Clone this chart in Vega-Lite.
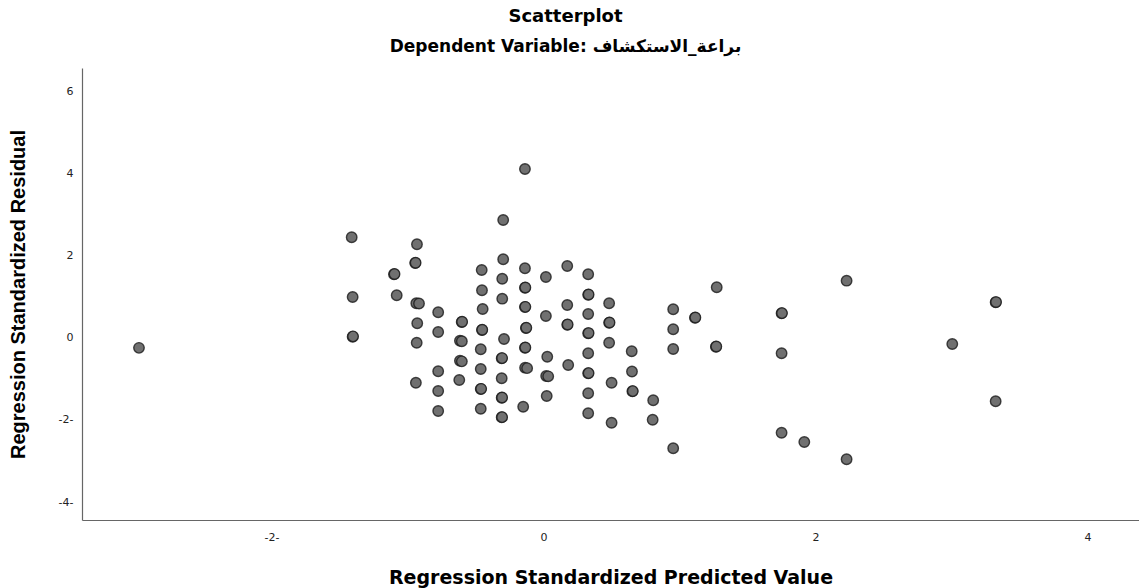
{
  "$schema": "https://vega.github.io/schema/vega-lite/v6.json",
  "autosize": "none",
  "width": 1057,
  "height": 452,
  "padding": {"left": 82, "top": 68, "right": 0, "bottom": 68},
  "background": "white",
  "config": {
    "font": "Liberation Sans",
    "view": {"stroke": null}
  },
  "title": {
    "text": "Scatterplot",
    "subtitle": "Dependent Variable: براعة_الاستكشاف",
    "anchor": "middle",
    "frame": "group",
    "dx": -45,
    "font": "DejaVu Sans",
    "fontSize": 18,
    "fontWeight": "bold",
    "color": "#000000",
    "subtitleFont": "DejaVu Sans",
    "subtitleFontSize": 17,
    "subtitleFontWeight": "bold",
    "subtitleColor": "#000000",
    "subtitlePadding": 13,
    "offset": 13
  },
  "data": {
    "values": [
      {"pred": -2.974, "resid": -0.24},
      {"pred": -1.410, "resid": 2.456},
      {"pred": -1.403, "resid": 1.000},
      {"pred": -1.403, "resid": 0.032},
      {"pred": -1.400, "resid": 0.040},
      {"pred": -1.099, "resid": 1.554},
      {"pred": -1.095, "resid": 1.560},
      {"pred": -1.079, "resid": 1.041},
      {"pred": -0.930, "resid": 2.285},
      {"pred": -0.943, "resid": 1.829},
      {"pred": -0.940, "resid": 1.835},
      {"pred": -0.935, "resid": 0.846},
      {"pred": -0.915, "resid": 0.840},
      {"pred": -0.928, "resid": 0.359},
      {"pred": -0.932, "resid": -0.115},
      {"pred": -0.938, "resid": -1.090},
      {"pred": -0.774, "resid": 0.627},
      {"pred": -0.774, "resid": 0.146},
      {"pred": -0.774, "resid": -0.812},
      {"pred": -0.774, "resid": -1.293},
      {"pred": -0.774, "resid": -1.780},
      {"pred": -0.601, "resid": 0.390},
      {"pred": -0.598, "resid": 0.395},
      {"pred": -0.614, "resid": -0.066},
      {"pred": -0.600, "resid": -0.080},
      {"pred": -0.614, "resid": -0.554},
      {"pred": -0.600, "resid": -0.570},
      {"pred": -0.619, "resid": -1.024},
      {"pred": -0.454, "resid": 1.659},
      {"pred": -0.452, "resid": 1.163},
      {"pred": -0.447, "resid": 0.707},
      {"pred": -0.452, "resid": 0.195},
      {"pred": -0.450, "resid": 0.200},
      {"pred": -0.461, "resid": -0.276},
      {"pred": -0.461, "resid": -0.756},
      {"pred": -0.461, "resid": -1.244},
      {"pred": -0.458, "resid": -1.240},
      {"pred": -0.461, "resid": -1.724},
      {"pred": -0.296, "resid": 2.878},
      {"pred": -0.296, "resid": 1.920},
      {"pred": -0.303, "resid": 1.446},
      {"pred": -0.303, "resid": 0.959},
      {"pred": -0.290, "resid": -0.024},
      {"pred": -0.307, "resid": -0.495},
      {"pred": -0.304, "resid": -0.490},
      {"pred": -0.307, "resid": -0.983},
      {"pred": -0.307, "resid": -1.456},
      {"pred": -0.304, "resid": -1.450},
      {"pred": -0.307, "resid": -1.934},
      {"pred": -0.304, "resid": -1.930},
      {"pred": -0.136, "resid": 4.122},
      {"pred": -0.136, "resid": 1.700},
      {"pred": -0.136, "resid": 1.227},
      {"pred": -0.133, "resid": 1.232},
      {"pred": -0.136, "resid": 0.756},
      {"pred": -0.133, "resid": 0.760},
      {"pred": -0.129, "resid": 0.244},
      {"pred": -0.126, "resid": 0.250},
      {"pred": -0.136, "resid": -0.237},
      {"pred": -0.133, "resid": -0.232},
      {"pred": -0.135, "resid": -0.724},
      {"pred": -0.120, "resid": -0.735},
      {"pred": -0.149, "resid": -1.676},
      {"pred": 0.018, "resid": 1.488},
      {"pred": 0.018, "resid": 0.537},
      {"pred": 0.028, "resid": -0.456},
      {"pred": 0.020, "resid": -0.927},
      {"pred": 0.035, "resid": -0.935},
      {"pred": 0.024, "resid": -1.415},
      {"pred": 0.175, "resid": 1.756},
      {"pred": 0.175, "resid": 0.805},
      {"pred": 0.175, "resid": 0.324},
      {"pred": 0.178, "resid": 0.330},
      {"pred": 0.182, "resid": -0.659},
      {"pred": 0.329, "resid": 1.554},
      {"pred": 0.329, "resid": 1.056},
      {"pred": 0.332, "resid": 1.060},
      {"pred": 0.329, "resid": 0.585},
      {"pred": 0.329, "resid": 0.115},
      {"pred": 0.332, "resid": 0.120},
      {"pred": 0.329, "resid": -0.373},
      {"pred": 0.329, "resid": -0.861},
      {"pred": 0.332, "resid": -0.856},
      {"pred": 0.329, "resid": -1.349},
      {"pred": 0.329, "resid": -1.837},
      {"pred": 0.483, "resid": 0.846},
      {"pred": 0.483, "resid": 0.373},
      {"pred": 0.486, "resid": 0.378},
      {"pred": 0.483, "resid": -0.115},
      {"pred": 0.501, "resid": -1.090},
      {"pred": 0.501, "resid": -2.066},
      {"pred": 0.649, "resid": -0.324},
      {"pred": 0.651, "resid": -0.817},
      {"pred": 0.654, "resid": -1.300},
      {"pred": 0.657, "resid": -1.295},
      {"pred": 0.807, "resid": -1.517},
      {"pred": 0.803, "resid": -1.993},
      {"pred": 0.954, "resid": 0.700},
      {"pred": 0.954, "resid": 0.212},
      {"pred": 0.954, "resid": -0.268},
      {"pred": 0.954, "resid": -2.690},
      {"pred": 1.114, "resid": 0.495},
      {"pred": 1.117, "resid": 0.500},
      {"pred": 1.274, "resid": 1.237},
      {"pred": 1.268, "resid": -0.212},
      {"pred": 1.271, "resid": -0.207},
      {"pred": 1.751, "resid": 0.602},
      {"pred": 1.754, "resid": 0.607},
      {"pred": 1.751, "resid": -0.373},
      {"pred": 1.751, "resid": -2.310},
      {"pred": 1.918, "resid": -2.537},
      {"pred": 2.229, "resid": 1.398},
      {"pred": 2.229, "resid": -2.959},
      {"pred": 3.006, "resid": -0.146},
      {"pred": 3.325, "resid": 0.871},
      {"pred": 3.328, "resid": 0.876},
      {"pred": 3.325, "resid": -1.544}
    ]
  },
  "mark": {
    "type": "point",
    "shape": "circle",
    "filled": true,
    "size": 110,
    "fill": "#707070",
    "fillOpacity": 1,
    "stroke": "#1a1a1a",
    "strokeWidth": 1.4,
    "strokeOpacity": 0.8
  },
  "encoding": {
    "x": {
      "field": "pred",
      "type": "quantitative",
      "scale": {"domain": [-3.393, 4.379], "nice": false, "zero": false},
      "axis": {
        "title": "Regression Standardized Predicted Value",
        "values": [-2, 0, 2, 4],
        "labelExpr": "datum.value < 0 ? '-' + abs(datum.value) + '-' : '' + datum.value",
        "grid": false,
        "ticks": false,
        "domainColor": "#666666",
        "domainWidth": 1.2,
        "labelFont": "DejaVu Sans",
        "labelFontSize": 11,
        "labelColor": "#222222",
        "labelPadding": 11,
        "titleFont": "DejaVu Sans",
        "titleFontSize": 19,
        "titleFontWeight": "bold",
        "titleColor": "#000000",
        "titleBaseline": "middle",
        "titleY": 57
      }
    },
    "y": {
      "field": "resid",
      "type": "quantitative",
      "scale": {"domain": [-4.439, 6.585], "nice": false, "zero": false},
      "axis": {
        "title": "Regression Standardized Residual",
        "values": [-4, -2, 0, 2, 4, 6],
        "labelExpr": "datum.value < 0 ? '-' + abs(datum.value) + '-' : '' + datum.value",
        "grid": false,
        "ticks": false,
        "domainColor": "#666666",
        "domainWidth": 1.2,
        "labelFont": "DejaVu Sans",
        "labelFontSize": 11,
        "labelColor": "#222222",
        "labelPadding": 9,
        "titleFont": "Liberation Sans",
        "titleFontSize": 20,
        "titleFontWeight": "bold",
        "titleColor": "#000000",
        "titleBaseline": "middle",
        "titleX": -64
      }
    }
  }
}
